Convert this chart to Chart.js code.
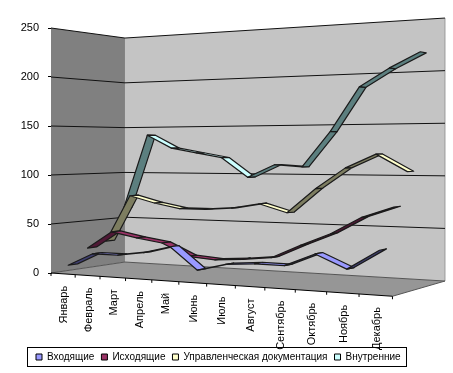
<!DOCTYPE html>
<html>
<head>
<meta charset="utf-8">
<style>
  html, body { margin: 0; padding: 0; background: #fff; }
  canvas { display: block; }
</style>
<script src="https://cdn.jsdelivr.net/npm/chart.js@4"></script>
</head>
<body>
<canvas id="chart" width="453" height="373"></canvas>
<script>
const months = ['Январь', 'Февраль', 'Март', 'Апрель', 'Май', 'Июнь', 'Июль', 'Август', 'Сентябрь', 'Октябрь', 'Ноябрь', 'Декабрь'];
const incoming = [8, 21, 21, 25, 32, 11, 18, 20, 20, 32, 20, 38];
const outgoing = [23, 41, 36, 32, 20, 18, 20, 23, 36, 48, 64, 74];
const management = [28, 77, 70, 65, 65, 67, 72, 64, 88, 108, 121, 105];
const internal = [62, 141, 127, 122, 117, 97, 110, 108, 143, 186, 203, 217];

const FONT = '"Liberation Sans", Arial, sans-serif';

// depth slot of each ribbon, front to back
const DEPTHS = [0.125, 0.375, 0.625, 0.875];
const RIBBON = 0.06;
const FACE_DARK = ['#3f3f70', '#4f1835', '#7d7d60', '#5c7f7f'];

// perspective of the box, u along the months, v up, w into the page
function toScreen(u, v, w) {
  const d = 1 - 0.1622 * u + 0.09375 * w;
  return {
    x: (51 + 277.8 * u + 85.7 * w) / d,
    y: (273 - 24.8 * u + 13.6 * w - 245 * v) / d
  };
}

function fromScale(chart, px, py, w) {
  const a = chart.chartArea;
  return toScreen((px - a.left) / (a.right - a.left), (a.bottom - py) / (a.bottom - a.top), w);
}

function poly(ctx, pts, fill, stroke) {
  ctx.beginPath();
  pts.forEach((p, i) => (i ? ctx.lineTo(p.x, p.y) : ctx.moveTo(p.x, p.y)));
  ctx.closePath();
  if (fill) { ctx.fillStyle = fill; ctx.fill(); }
  if (stroke) { ctx.strokeStyle = stroke; ctx.lineWidth = 1.2; ctx.stroke(); }
}

function line(ctx, a, b, color) {
  ctx.strokeStyle = color;
  ctx.lineWidth = 1;
  ctx.beginPath();
  ctx.moveTo(a.x, a.y);
  ctx.lineTo(b.x, b.y);
  ctx.stroke();
}

const boxPlugin = {
  id: 'box',
  beforeDatasetsDraw(chart) {
    const ctx = chart.ctx;
    ctx.save();
    // walls and floor
    poly(ctx, [toScreen(0, 0, 0), toScreen(0, 1, 0), toScreen(0, 1, 1), toScreen(0, 0, 1)], '#808080');
    poly(ctx, [toScreen(0, 0, 1), toScreen(0, 1, 1), toScreen(1, 1, 1), toScreen(1, 0, 1)], '#c4c4c4');
    poly(ctx, [toScreen(0, 0, 0), toScreen(0, 0, 1), toScreen(1, 0, 1), toScreen(1, 0, 0)], '#969696');
    line(ctx, toScreen(1, 0, 1), toScreen(1, 1, 1), '#999');

    // gridlines from the y ticks
    const y = chart.scales.y;
    y.ticks.forEach(t => {
      const v = t.value / y.max;
      const col = t.value === 0 ? '#555' : '#111';
      line(ctx, toScreen(0, v, 0), toScreen(0, v, 1), col);
      line(ctx, toScreen(0, v, 1), toScreen(1, v, 1), col);
    });

    // front edges of the floor
    line(ctx, toScreen(0, 0, 0), toScreen(1, 0, 0), '#000');
    line(ctx, toScreen(1, 0, 0), toScreen(1, 0, 1), '#555');

    // month ticks and labels
    for (let k = 0; k <= months.length; k++) {
      const p = toScreen(k / months.length, 0, 0);
      line(ctx, p, { x: p.x, y: p.y + 3 }, '#000');
    }
    ctx.fillStyle = '#000';
    ctx.font = '11px ' + FONT;
    ctx.textAlign = 'right';
    ctx.textBaseline = 'middle';
    months.forEach((m, i) => {
      const p = fromScale(chart, chart.scales.x.getPixelForValue(i), chart.scales.x.bottom, 0);
      const front = toScreen((i + 0.5) / months.length, 0, 0);
      ctx.save();
      ctx.translate(p.x + 1, front.y + 12);
      ctx.rotate(-Math.PI / 2);
      ctx.fillText(m, 0, 0);
      ctx.restore();
    });
    ctx.restore();
  },
  // each dataset is drawn as a ribbon through the box instead of a flat line
  beforeDatasetDraw(chart, args) {
    const ctx = chart.ctx;
    const i = args.index;
    const pts = args.meta.data;
    const w = DEPTHS[i];
    const ds = chart.data.datasets[i];
    ctx.save();
    ctx.lineJoin = 'round';
    for (let k = 0; k < pts.length - 1; k++) {
      const a = fromScale(chart, pts[k].x, pts[k].y, w - RIBBON);
      const b = fromScale(chart, pts[k + 1].x, pts[k + 1].y, w - RIBBON);
      const c = fromScale(chart, pts[k + 1].x, pts[k + 1].y, w + RIBBON);
      const d = fromScale(chart, pts[k].x, pts[k].y, w + RIBBON);
      const cross = (b.x - a.x) * (d.y - a.y) - (b.y - a.y) * (d.x - a.x);
      poly(ctx, [a, b, c, d], cross < 0 ? ds.backgroundColor : FACE_DARK[i], '#1a1a1a');
    }
    ctx.restore();
    return false;
  },
  afterLayout(chart) {
    // legend sits in its frame, labels.padding is also added above the row
    const l = chart.legend;
    l.left = 29;
    l.right = 453;
    l.top = 345;
    l.bottom = 366;
  },
  afterDraw(chart) {
    const ctx = chart.ctx;
    ctx.strokeStyle = '#000';
    ctx.lineWidth = 1;
    ctx.strokeRect(27.5, 347.5, 379, 19);
  }
};

new Chart(document.getElementById('chart'), {
  type: 'line',
  data: {
    labels: months,
    datasets: [
      { label: 'Входящие', data: incoming, backgroundColor: '#9999ff', borderColor: '#000', borderWidth: 1 },
      { label: 'Исходящие', data: outgoing, backgroundColor: '#993366', borderColor: '#000', borderWidth: 1 },
      { label: 'Управленческая документация', data: management, backgroundColor: '#ffffcc', borderColor: '#000', borderWidth: 1 },
      { label: 'Внутренние', data: internal, backgroundColor: '#ccffff', borderColor: '#000', borderWidth: 1 }
    ]
  },
  options: {
    responsive: false,
    animation: false,
    layout: { padding: { top: 28, right: 60, left: 0, bottom: 0 } },
    plugins: {
      tooltip: { enabled: false },
      legend: {
        position: 'bottom',
        align: 'start',
        labels: {
          boxWidth: 6,
          boxHeight: 6,
          padding: 7,
          color: '#000',
          font: { family: FONT, size: 10 }
        }
      }
    },
    scales: {
      x: {
        offset: true,
        grid: { display: false },
        border: { display: false },
        ticks: { display: false },
        afterFit(s) { s.height = 100 - s.chart.legend.height; }
      },
      y: {
        min: 0,
        max: 250,
        ticks: { stepSize: 50, padding: 9, color: '#000', font: { family: FONT, size: 11 } },
        grid: { drawOnChartArea: false, drawTicks: true, tickLength: 3, color: '#000' },
        border: { display: true, color: '#000' },
        afterFit(s) { s.width = 51; }
      }
    }
  },
  plugins: [boxPlugin]
});
</script>
</body>
</html>
